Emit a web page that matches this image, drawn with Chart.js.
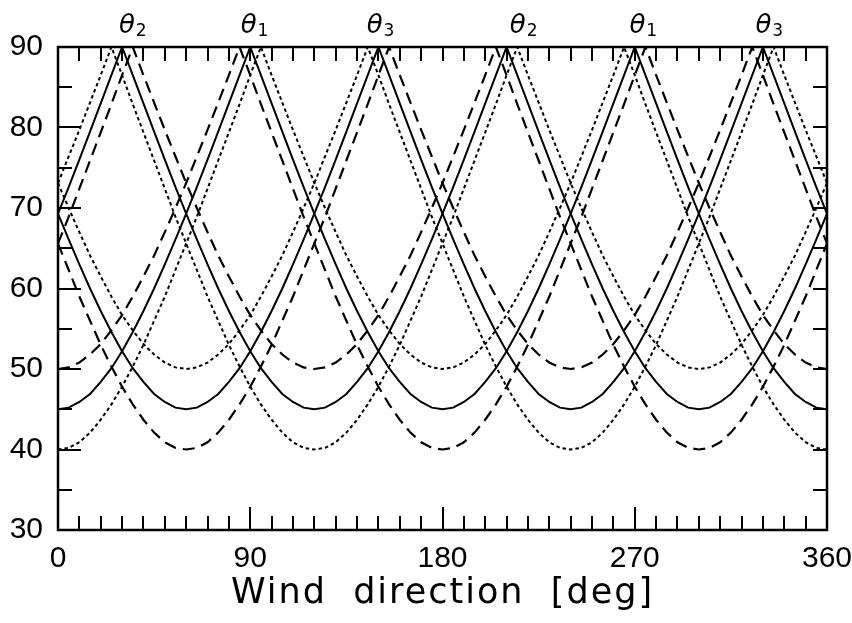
<!DOCTYPE html>
<html>
<head>
<meta charset="utf-8">
<script src="https://cdn.jsdelivr.net/npm/chart.js@4.4.1/dist/chart.umd.min.js"></script>
<style>
  html, body { margin: 0; padding: 0; background: #fff; }
</style>
</head>
<body>
<canvas id="grafica" width="852" height="623"></canvas>
<script>
// Dirección del viento (grados), común a todas las curvas
const windDir = [0,5,10,15,20,25,30,35,40,45,50,55,60,65,70,75,80,85,90,95,100,105,110,115,120,125,130,135,140,145,150,155,160,165,170,175,180,185,190,195,200,205,210,215,220,225,230,235,240,245,250,255,260,265,270,275,280,285,290,295,300,305,310,315,320,325,330,335,340,345,350,355,360];

// Curvas continuas
const solidTheta1 = [45.0,45.2,45.9,46.9,48.4,50.1,52.2,54.6,57.2,60.0,63.0,66.1,69.3,72.6,76.0,79.5,83.0,86.5,90.0,86.5,83.0,79.5,76.0,72.6,69.3,66.1,63.0,60.0,57.2,54.6,52.2,50.1,48.4,46.9,45.9,45.2,
  45.0,45.2,45.9,46.9,48.4,50.1,52.2,54.6,57.2,60.0,63.0,66.1,69.3,72.6,76.0,79.5,83.0,86.5,90.0,86.5,83.0,79.5,76.0,72.6,69.3,66.1,63.0,60.0,57.2,54.6,52.2,50.1,48.4,46.9,45.9,45.2,45.0];
const solidTheta2 = [69.3,72.6,76.0,79.5,83.0,86.5,90.0,86.5,83.0,79.5,76.0,72.6,69.3,66.1,63.0,60.0,57.2,54.6,52.2,50.1,48.4,46.9,45.9,45.2,
  45.0,45.2,45.9,46.9,48.4,50.1,52.2,54.6,57.2,60.0,63.0,66.1,69.3,72.6,76.0,79.5,83.0,86.5,90.0,86.5,83.0,79.5,76.0,72.6,69.3,66.1,63.0,60.0,57.2,54.6,52.2,50.1,48.4,46.9,45.9,45.2,
  45.0,45.2,45.9,46.9,48.4,50.1,52.2,54.6,57.2,60.0,63.0,66.1,69.3];
const solidTheta3 = [69.3,66.1,63.0,60.0,57.2,54.6,52.2,50.1,48.4,46.9,45.9,45.2,
  45.0,45.2,45.9,46.9,48.4,50.1,52.2,54.6,57.2,60.0,63.0,66.1,69.3,72.6,76.0,79.5,83.0,86.5,90.0,86.5,83.0,79.5,76.0,72.6,69.3,66.1,63.0,60.0,57.2,54.6,52.2,50.1,48.4,46.9,45.9,45.2,
  45.0,45.2,45.9,46.9,48.4,50.1,52.2,54.6,57.2,60.0,63.0,66.1,69.3,72.6,76.0,79.5,83.0,86.5,90.0,86.5,83.0,79.5,76.0,72.6,69.3];

// Curvas a trazos
const dashedTheta1 = [50.0,50.2,50.8,51.8,53.1,54.8,56.7,59.0,61.5,64.1,67.0,70.0,73.1,76.4,79.7,83.1,86.5,90.0,86.5,82.9,79.4,75.9,72.4,68.9,65.6,62.3,59.0,56.0,53.0,50.3,47.8,45.6,43.7,42.1,40.9,40.2,
  40.0,40.2,40.9,42.1,43.7,45.6,47.8,50.3,53.0,56.0,59.0,62.3,65.6,68.9,72.4,75.9,79.4,82.9,86.5,90.0,86.5,83.1,79.7,76.4,73.1,70.0,67.0,64.1,61.5,59.0,56.7,54.8,53.1,51.8,50.8,50.2,50.0];
const dashedTheta2 = [65.6,68.9,72.4,75.9,79.4,82.9,86.5,90.0,86.5,83.1,79.7,76.4,73.1,70.0,67.0,64.1,61.5,59.0,56.7,54.8,53.1,51.8,50.8,50.2,50.0,50.2,50.8,51.8,53.1,54.8,56.7,59.0,61.5,64.1,67.0,70.0,73.1,76.4,79.7,83.1,86.5,90.0,86.5,82.9,79.4,75.9,72.4,68.9,65.6,62.3,59.0,56.0,53.0,50.3,47.8,45.6,43.7,42.1,40.9,40.2,
  40.0,40.2,40.9,42.1,43.7,45.6,47.8,50.3,53.0,56.0,59.0,62.3,65.6];
const dashedTheta3 = [65.6,62.3,59.0,56.0,53.0,50.3,47.8,45.6,43.7,42.1,40.9,40.2,
  40.0,40.2,40.9,42.1,43.7,45.6,47.8,50.3,53.0,56.0,59.0,62.3,65.6,68.9,72.4,75.9,79.4,82.9,86.5,90.0,86.5,83.1,79.7,76.4,73.1,70.0,67.0,64.1,61.5,59.0,56.7,54.8,53.1,51.8,50.8,50.2,50.0,50.2,50.8,51.8,53.1,54.8,56.7,59.0,61.5,64.1,67.0,70.0,73.1,76.4,79.7,83.1,86.5,90.0,86.5,82.9,79.4,75.9,72.4,68.9,65.6];

// Curvas punteadas
const dottedTheta1 = [40.0,40.2,40.9,42.1,43.7,45.6,47.8,50.3,53.0,56.0,59.0,62.3,65.6,68.9,72.4,75.9,79.4,82.9,86.5,90.0,86.5,83.1,79.7,76.4,73.1,70.0,67.0,64.1,61.5,59.0,56.7,54.8,53.1,51.8,50.8,50.2,
  50.0,50.2,50.8,51.8,53.1,54.8,56.7,59.0,61.5,64.1,67.0,70.0,73.1,76.4,79.7,83.1,86.5,90.0,86.5,82.9,79.4,75.9,72.4,68.9,65.6,62.3,59.0,56.0,53.0,50.3,47.8,45.6,43.7,42.1,40.9,40.2,40.0];
const dottedTheta2 = [73.1,76.4,79.7,83.1,86.5,90.0,86.5,82.9,79.4,75.9,72.4,68.9,65.6,62.3,59.0,56.0,53.0,50.3,47.8,45.6,43.7,42.1,40.9,40.2,
  40.0,40.2,40.9,42.1,43.7,45.6,47.8,50.3,53.0,56.0,59.0,62.3,65.6,68.9,72.4,75.9,79.4,82.9,86.5,90.0,86.5,83.1,79.7,76.4,73.1,70.0,67.0,64.1,61.5,59.0,56.7,54.8,53.1,51.8,50.8,50.2,50.0,50.2,50.8,51.8,53.1,54.8,56.7,59.0,61.5,64.1,67.0,70.0,73.1];
const dottedTheta3 = [73.1,70.0,67.0,64.1,61.5,59.0,56.7,54.8,53.1,51.8,50.8,50.2,50.0,50.2,50.8,51.8,53.1,54.8,56.7,59.0,61.5,64.1,67.0,70.0,73.1,76.4,79.7,83.1,86.5,90.0,86.5,82.9,79.4,75.9,72.4,68.9,65.6,62.3,59.0,56.0,53.0,50.3,47.8,45.6,43.7,42.1,40.9,40.2,
  40.0,40.2,40.9,42.1,43.7,45.6,47.8,50.3,53.0,56.0,59.0,62.3,65.6,68.9,72.4,75.9,79.4,82.9,86.5,90.0,86.5,83.1,79.7,76.4,73.1];

// Marcas de los ejes
const xTicks = [0, 90, 180, 270, 360];
const yTicks = [30, 40, 50, 60, 70, 80, 90];
const xMinorStep = 10;
const yMinorStep = 5;

// Etiquetas de los haces sobre el gráfico
const beamNames = ['2', '1', '3', '2', '1', '3'];
const beamLabelDir = [35, 92, 151, 218, 274, 333];

const FONT = '"DejaVu Sans", sans-serif';
const TICK_FONT = '"Liberation Sans", Arial, sans-serif';

function serie(label, values, dash, width) {
  return {
    label: label,
    data: windDir.map((d, i) => ({ x: d, y: values[i] })),
    borderColor: '#000',
    borderWidth: width,
    borderDash: dash,
    pointRadius: 0,
    showLine: true,
    fill: false,
    tension: 0
  };
}

// Marco, marcas interiores y textos extra
const marcoPlugin = {
  id: 'marco',
  afterDraw(chart) {
    const ctx = chart.ctx;
    const a = chart.chartArea;
    const x = chart.scales.x;
    const y = chart.scales.y;
    ctx.save();
    ctx.strokeStyle = '#000';
    ctx.lineWidth = 2;
    ctx.beginPath();
    for (let d = xMinorStep; d < 360; d += xMinorStep) {
      const px = Math.round(x.getPixelForValue(d));
      const len = xTicks.includes(d) ? 23 : 14;
      ctx.moveTo(px, a.bottom); ctx.lineTo(px, a.bottom - len);
      ctx.moveTo(px, a.top); ctx.lineTo(px, a.top + 14);
    }
    for (let v = 30 + yMinorStep; v < 90; v += yMinorStep) {
      const py = Math.round(y.getPixelForValue(v));
      const len = yTicks.includes(v) ? 23 : 14;
      ctx.moveTo(a.left, py); ctx.lineTo(a.left + len, py);
      ctx.moveTo(a.right, py); ctx.lineTo(a.right - 14, py);
    }
    ctx.stroke();
    ctx.lineWidth = 2.5;
    ctx.strokeRect(a.left, a.top, a.right - a.left, a.bottom - a.top);

    // Etiquetas theta
    ctx.fillStyle = '#000';
    ctx.textBaseline = 'alphabetic';
    ctx.textAlign = 'left';
    beamNames.forEach((n, i) => {
      const px = x.getPixelForValue(beamLabelDir[i]);
      ctx.font = 'italic 26px ' + FONT;
      const wT = ctx.measureText('θ').width;
      ctx.font = '17px ' + FONT;
      const wS = ctx.measureText(n).width;
      const left = px - (wT + wS + 1) / 2;
      ctx.font = 'italic 26px ' + FONT;
      ctx.fillText('θ', left, 33);
      ctx.font = '17px ' + FONT;
      ctx.fillText(n, left + wT + 1, 36);
    });

    // Título del eje x
    ctx.font = '35px ' + FONT;
    ctx.textAlign = 'center';
    if ('letterSpacing' in ctx) ctx.letterSpacing = '2px';
    ctx.fillText('Wind  direction  [deg]', (a.left + a.right) / 2, 603);
    ctx.restore();
  }
};

const ctx = document.getElementById('grafica').getContext('2d');
const chart = new Chart(ctx, {
  type: 'scatter',
  data: {
    datasets: [
      serie('θ1 continua', solidTheta1, [], 2),
      serie('θ2 continua', solidTheta2, [], 2),
      serie('θ3 continua', solidTheta3, [], 2),
      serie('θ1 trazos', dashedTheta1, [12, 7], 2.2),
      serie('θ2 trazos', dashedTheta2, [12, 7], 2.2),
      serie('θ3 trazos', dashedTheta3, [12, 7], 2.2),
      serie('θ1 puntos', dottedTheta1, [3.5, 3], 2),
      serie('θ2 puntos', dottedTheta2, [3.5, 3], 2),
      serie('θ3 puntos', dottedTheta3, [3.5, 3], 2)
    ]
  },
  options: {
    responsive: false,
    animation: false,
    events: [],
    layout: { padding: { left: 0, right: 25, top: 47, bottom: 0 } },
    plugins: {
      legend: { display: false },
      tooltip: { enabled: false }
    },
    scales: {
      x: {
        type: 'linear',
        min: 0,
        max: 360,
        afterBuildTicks: s => { s.ticks = xTicks.map(v => ({ value: v })); },
        afterFit: s => { s.height = 93; s.paddingLeft = 0; s.paddingRight = 0; },
        grid: { display: false, drawTicks: false },
        border: { display: false },
        ticks: { color: '#000', font: { family: TICK_FONT, size: 30 }, padding: 11, maxRotation: 0, autoSkip: false }
      },
      y: {
        min: 30,
        max: 90,
        afterBuildTicks: s => { s.ticks = yTicks.map(v => ({ value: v })); },
        afterFit: s => { s.width = 58; s.paddingTop = 0; s.paddingBottom = 0; },
        grid: { display: false, drawTicks: false },
        border: { display: false },
        ticks: { color: '#000', font: { family: TICK_FONT, size: 30 }, padding: 15 }
      }
    }
  },
  plugins: [marcoPlugin]
});
</script>
</body>
</html>
